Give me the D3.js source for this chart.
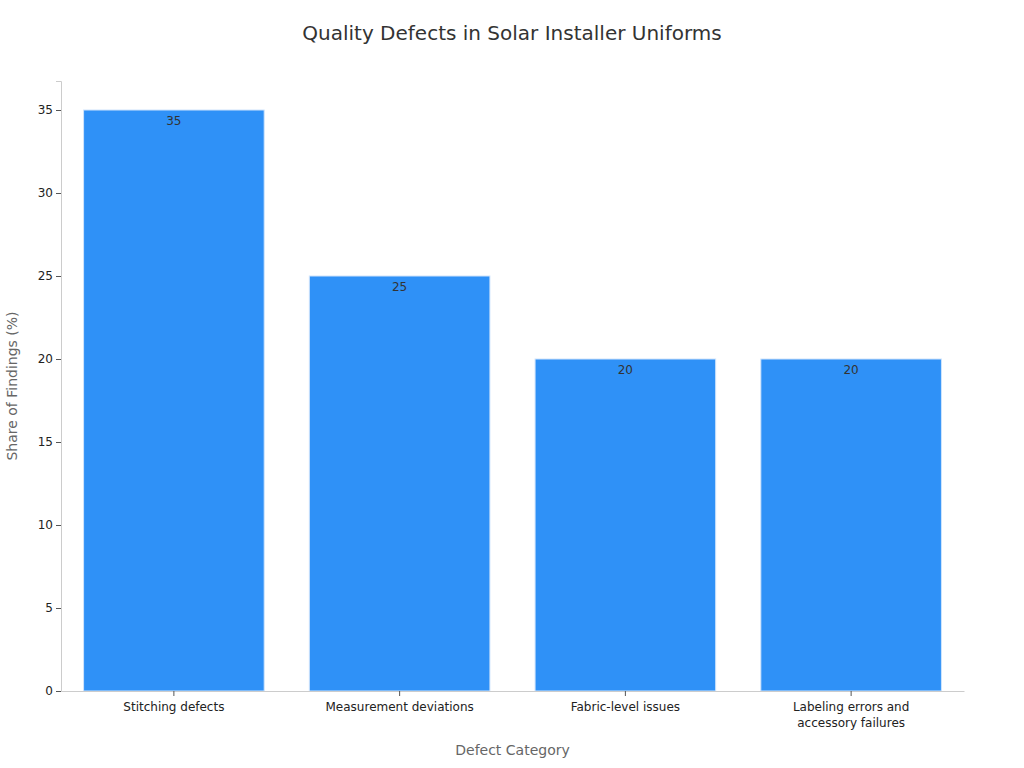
<!DOCTYPE html>
<html>
<head>
<meta charset="utf-8">
<script src="https://cdn.jsdelivr.net/npm/d3@7"></script>
<style>
  body { margin: 0; background: #fff; }
  svg { font-family: "DejaVu Sans", sans-serif; }
</style>
</head>
<body>
<div id="chart"></div>
<script>

var categories = ["Stitching defects", "Measurement deviations", "Fabric-level issues", "Labeling errors and accessory failures"];
var shares = [35, 25, 20, 20];
var yTicks = [0, 5, 10, 15, 20, 25, 30, 35];

var width = 1024,
    height = 768,
    margin = {top: 81, right: 60, bottom: 77, left: 61};

var innerW = width - margin.left - margin.right,
    innerH = height - margin.top - margin.bottom;

var svg = d3.select('#chart').append('svg')
    .attr('width', width)
    .attr('height', height);

var g = svg.append('g')
    .attr('transform', 'translate(' + margin.left + ',' + margin.top + ')');

var x = d3.scaleBand()
    .domain(categories)
    .range([0, innerW])
    .paddingInner(0.2)
    .paddingOuter(0.1);

// 35 sits at y=110, 0 at y=691
var y = d3.scaleLinear()
    .domain([0, 35 * innerH / 581])
    .range([innerH, 0]);

// Bars
g.selectAll('.bar')
    .data(shares)
    .enter()
    .append('rect')
    .attr('class', 'bar')
    .attr('x', function (d, i) { return x(categories[i]); })
    .attr('y', function (d) { return y(d); })
    .attr('width', x.bandwidth())
    .attr('height', function (d) { return y(0) - y(d); })
    .attr('fill', '#2f91f7')
    .attr('stroke', '#cfe4fc')
    .attr('stroke-width', 1);

// Value labels
g.selectAll('.val')
    .data(shares)
    .enter()
    .append('text')
    .attr('class', 'val')
    .attr('x', function (d, i) { return x(categories[i]) + x.bandwidth() / 2; })
    .attr('y', function (d) { return y(d) + 15; })
    .attr('text-anchor', 'middle')
    .style('font-size', '12px')
    .style('fill', '#333')
    .text(function (d) { return d; });

// Y axis
var yAxis = g.append('g')
    .call(d3.axisLeft(y).tickValues(yTicks).tickSize(5).tickPadding(3));
yAxis.attr('font-family', '"DejaVu Sans", sans-serif');
yAxis.select('.domain').attr('stroke', '#ccc');
yAxis.selectAll('.tick line').attr('stroke', '#555');
yAxis.selectAll('.tick text').style('font-size', '12px').style('fill', '#222');

// X axis
var xAxis = g.append('g')
    .attr('transform', 'translate(0,' + innerH + ')')
    .call(d3.axisBottom(x).tickSize(5).tickPadding(6).tickSizeOuter(0));
xAxis.attr('font-family', '"DejaVu Sans", sans-serif');
xAxis.select('.domain').attr('stroke', '#ccc');
xAxis.selectAll('.tick line').attr('stroke', '#555');
xAxis.selectAll('.tick text')
    .style('font-size', '12px')
    .style('fill', '#222')
    .each(function (d) {
        // wrap long labels onto two lines
        var t = d3.select(this);
        if (d.length > 24) {
            var words = d.split(' ');
            var first = words.slice(0, 3).join(' '),
                second = words.slice(3).join(' ');
            t.text(null);
            t.append('tspan').attr('x', 0).attr('dy', '0.71em').text(first);
            t.append('tspan').attr('x', 0).attr('dy', '1.35em').text(second);
        }
    });

// Axis labels
svg.append('text')
    .attr('x', margin.left + innerW / 2)
    .attr('y', 755)
    .attr('text-anchor', 'middle')
    .style('font-size', '14px')
    .style('fill', '#666')
    .text('Defect Category');

svg.append('text')
    .attr('transform', 'translate(17,' + (margin.top + 305) + ') rotate(-90)')
    .attr('text-anchor', 'middle')
    .style('font-size', '14px')
    .style('fill', '#666')
    .text('Share of Findings (%)');

// Title
svg.append('text')
    .attr('x', 512)
    .attr('y', 40)
    .attr('text-anchor', 'middle')
    .style('font-size', '20px')
    .style('fill', '#333')
    .text('Quality Defects in Solar Installer Uniforms');

</script>
</body>
</html>
